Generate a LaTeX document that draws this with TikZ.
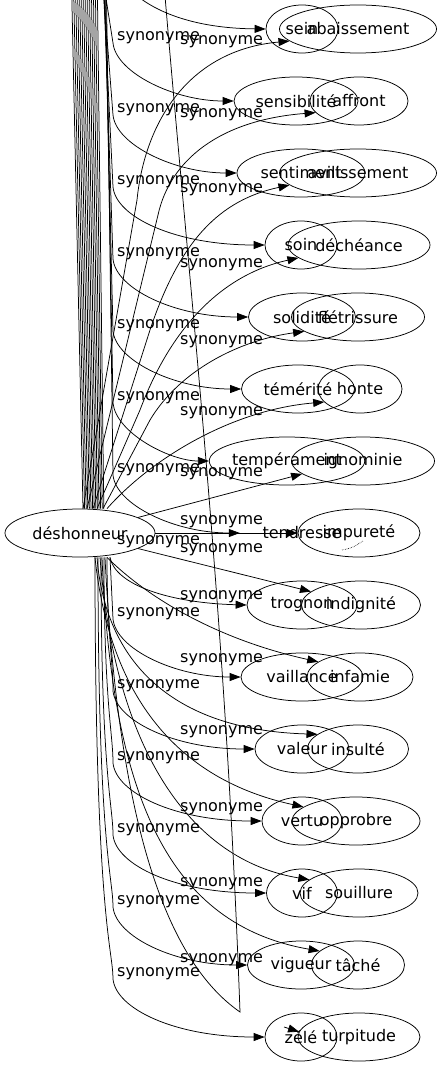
\documentclass[tikz,border=0pt]{standalone}
\usepackage{fontspec}
\setmainfont{DejaVu Sans}
\usetikzlibrary{shapes.geometric, arrows.meta}

\begin{document}
\begin{tikzpicture}[x=1pt, y=-1pt,
        word/.style={ellipse, draw, line width=0.75pt, inner sep=0pt, minimum height=48pt, font=\fontsize{16}{19}\selectfont},
        syn/.style={anchor=west, inner sep=0pt, font=\fontsize{16}{19}\selectfont},
        rel/.style={line width=0.75pt, -{Triangle[length=11pt, width=8pt]}},
        wire/.style={line width=0.75pt}]
        \clip (0,0) rectangle (443,1067);
        \coordinate (sky) at (0,-40);

        \node[word, minimum width=150pt] (desh) at (80,533) {déshonneur};

        % first column of words
        \node[word, minimum width=72pt] (sein) at (302,29) {sein};
        \node[word, minimum width=124pt] (sensibilite) at (296,101) {sensibilité};
        \node[word, minimum width=128pt] (sentiment) at (301,173) {sentiment};
        \node[word, minimum width=72pt] (soin) at (301,245) {soin};
        \node[word, minimum width=107pt] (solidite) at (302,317) {solidité};
        \node[word, minimum width=113pt] (temerite) at (298,389) {témérité};
        \node[word, minimum width=137pt] (temperament) at (287,461) {tempérament};
        \node[ellipse, inner sep=0pt, minimum width=124pt, minimum height=48pt, font=\fontsize{16}{19}\selectfont] (tendresse) at (302,533) {tendresse};
        \node[word, minimum width=110pt] (trognon) at (302,605) {trognon};
        \node[word, minimum width=122pt] (vaillance) at (302,677) {vaillance};
        \node[word, minimum width=94pt] (valeur) at (302,749) {valeur};
        \node[word, minimum width=80pt] (vertu) at (302,821) {vertu};
        \node[word, minimum width=71pt] (vif) at (302,893) {vif};
        \node[word, minimum width=107pt] (vigueur) at (301,965) {vigueur};
        \node[word, minimum width=72pt] (zele) at (301,1037) {zélé};

        % second column of words
        \node[word, minimum width=157pt] (abaissement) at (358,29) {abaissement};
        \node[word, minimum width=98pt] (affront) at (359,101) {affront};
        \node[word, minimum width=157pt] (avilissement) at (358,173) {avilissement};
        \node[word, minimum width=142pt] (decheance) at (359,245) {déchéance};
        \node[word, minimum width=133pt] (fletrissure) at (358,317) {flétrissure};
        \node[word, minimum width=84pt] (honte) at (360,389) {honte};
        \node[word, minimum width=143pt] (ignominie) at (363,461) {ignominie};
        \node[word, minimum width=122pt] (impurete) at (359,533) {impureté};
        \node[word, minimum width=119pt] (indignite) at (361,605) {indignité};
        \node[word, minimum width=106pt] (infamie) at (360,677) {infamie};
        \node[word, minimum width=101pt] (insulte) at (358,749) {insulté};
        \node[word, minimum width=128pt] (opprobre) at (356,821) {opprobre};
        \node[word, minimum width=118pt] (souillure) at (359,893) {souillure};
        \node[word, minimum width=93pt] (tache) at (358,965) {tâché};
        \node[word, minimum width=122pt] (turpitude) at (359,1037) {turpitude};
        \draw[densely dotted, line width=0.6pt] (342,550) .. controls (352,548) .. (363,541);

        % lines going up out of the picture
        \draw[wire] ([xshift=4.6pt]desh.north) -- ([xshift=73pt]sky);
        \draw[wire] ([xshift=7.8pt]desh.north) -- ([xshift=77pt]sky);
        \draw[wire] ([xshift=11pt]desh.north) -- ([xshift=81pt]sky);
        \draw[wire] ([xshift=14.2pt]desh.north) -- ([xshift=85pt]sky);
        \draw[wire] ([xshift=17.4pt]desh.north) -- ([xshift=89pt]sky);
        \draw[wire] ([xshift=20.6pt]desh.north) -- ([xshift=93pt]sky);

        % up and back down to the first column
        \draw[rel] ([xshift=3pt]desh.north) -- ([xshift=71pt]sky) -- ([xshift=110pt]sky) .. controls (125,0) and (175,28) .. (sein.west);
        \draw[rel] ([xshift=6.2pt]desh.north) -- ([xshift=75pt]sky) -- ([xshift=100pt]sky) -- (113,43) .. controls (116,73) and (175,101) .. (sensibilite.west);
        \draw[rel] ([xshift=9.4pt]desh.north) -- ([xshift=79pt]sky) -- ([xshift=101pt]sky) -- (113,115) .. controls (116,145) and (175,173) .. (sentiment.west);
        \draw[rel] ([xshift=12.6pt]desh.north) -- ([xshift=83pt]sky) -- ([xshift=102pt]sky) -- (113,187) .. controls (116,217) and (175,245) .. (soin.west);
        \draw[rel] ([xshift=15.8pt]desh.north) -- ([xshift=87pt]sky) -- ([xshift=103pt]sky) -- (113,259) .. controls (116,289) and (175,317) .. (solidite.west);
        \draw[rel] ([xshift=19pt]desh.north) -- ([xshift=91pt]sky) -- ([xshift=104pt]sky) -- (113,331) .. controls (116,361) and (175,389) .. (temerite.west);
        \draw[rel] ([xshift=22.2pt]desh.north) -- ([xshift=95pt]sky) -- ([xshift=105pt]sky) -- (113,403) .. controls (116,433) and (170,461) .. (temperament.west);
        \draw[rel] ([xshift=23.8pt]desh.north) -- ([xshift=97pt]sky) -- ([xshift=106pt]sky) -- (113,475) .. controls (116,505) and (175,533) .. (tendresse.west);

        % rising to the second column
        \draw[rel] ([xshift=3pt]desh.north) -- (137,200) .. controls (145,120) and (190,50) .. (abaissement.190);
        \draw[rel] ([xshift=7pt]desh.north) -- (158,215) .. controls (170,160) and (220,120) .. (affront.195);
        \draw[rel] ([xshift=13pt]desh.north) -- (150,330) .. controls (180,240) and (220,200) .. (avilissement.190);
        \draw[rel] ([xshift=17pt]desh.north) -- (140,410) .. controls (170,330) and (220,275) .. (decheance.192);
        \draw[rel] ([xshift=23pt]desh.north) -- (150,420) .. controls (180,370) and (240,340) .. (fletrissure.195);
        \draw[rel] ([xshift=27pt]desh.north) .. controls (150,460) and (230,410) .. (honte.200);
        \draw[rel] (desh.15) -- (ignominie.192);
        \draw[rel] (desh.east) -- (impurete.west);

        % down to the first column
        \draw[rel] ([xshift=30pt]desh.south) .. controls (115,585) and (170,603) .. (trognon.west);
        \draw[rel] ([xshift=30pt]desh.south) -- (113,619) .. controls (116,649) and (175,677) .. (vaillance.west);
        \draw[rel] ([xshift=27pt]desh.south) .. controls (107,631) and (113,661) .. (113,691) .. controls (116,721) and (175,749) .. (valeur.west);
        \draw[rel] ([xshift=24pt]desh.south) .. controls (104,703) and (113,733) .. (113,763) .. controls (116,793) and (175,821) .. (vertu.west);
        \draw[rel] ([xshift=21pt]desh.south) .. controls (101,775) and (113,805) .. (113,835) .. controls (116,865) and (175,893) .. (vif.west);
        \draw[rel] ([xshift=18pt]desh.south) .. controls (98,847) and (113,877) .. (113,907) .. controls (116,937) and (175,965) .. (vigueur.west);
        \draw[rel] ([xshift=15pt]desh.south) .. controls (95,919) and (113,949) .. (113,979) .. controls (116,1009) and (175,1037) .. (zele.west);

        % down to the second column
        \draw[rel] (desh.-15) -- (indignite.165);
        \draw[rel] ([xshift=27pt]desh.south) .. controls (150,600) and (220,640) .. (infamie.160);
        \draw[rel] ([xshift=17pt]desh.south) .. controls (105,660) and (170,730) .. (insulte.160);
        \draw[rel] ([xshift=15pt]desh.south) .. controls (110,700) and (180,780) .. (opprobre.165);
        \draw[rel] ([xshift=20pt]desh.south) .. controls (115,750) and (190,860) .. (souillure.165);
        \draw[rel] ([xshift=22pt]desh.south) .. controls (112,800) and (170,925) .. (tache.160);
        \draw[wire] ([xshift=25pt]desh.south) .. controls (118,820) and (165,960) .. (240,1012) .. controls (225,600) and (190,300) .. ([xshift=162pt]sky);
        \coordinate (tp) at (284,1027);
        \draw[rel] (tp) -- (turpitude.175);

        % labels
        \node[syn] (la1) at (117,38) {synonyme};
        \node[syn] (la2) at (117,110) {synonyme};
        \node[syn] (la3) at (117,182) {synonyme};
        \node[syn] (la4) at (117,254) {synonyme};
        \node[syn] (la5) at (117,326) {synonyme};
        \node[syn] (la6) at (117,398) {synonyme};
        \node[syn] (la7) at (117,470) {synonyme};
        \node[syn] (la8) at (117,542) {synonyme};
        \node[syn] (la9) at (117,614) {synonyme};
        \node[syn] (la10) at (117,686) {synonyme};
        \node[syn] (la11) at (117,758) {synonyme};
        \node[syn] (la12) at (117,830) {synonyme};
        \node[syn] (la13) at (117,902) {synonyme};
        \node[syn] (la14) at (117,974) {synonyme};

        \node[syn] (lb1) at (180,42) {synonyme};
        \node[syn] (lb2) at (180,115) {synonyme};
        \node[syn] (lb3) at (180,190) {synonyme};
        \node[syn] (lb4) at (180,265) {synonyme};
        \node[syn] (lb5) at (180,342) {synonyme};
        \node[syn] (lb6) at (180,413) {synonyme};
        \node[syn] (lb7) at (180,474) {synonyme};
        \node[syn] (lb8) at (180,522) {synonyme};
        \node[syn] (lb9) at (180,550) {synonyme};
        \node[syn] (lb10) at (180,597) {synonyme};
        \node[syn] (lb11) at (180,660) {synonyme};
        \node[syn] (lb12) at (180,732) {synonyme};
        \node[syn] (lb13) at (180,809) {synonyme};
        \node[syn] (lb14) at (180,884) {synonyme};
        \node[syn] (lb15) at (180,960) {synonyme};
    \end{tikzpicture}
\end{document}
